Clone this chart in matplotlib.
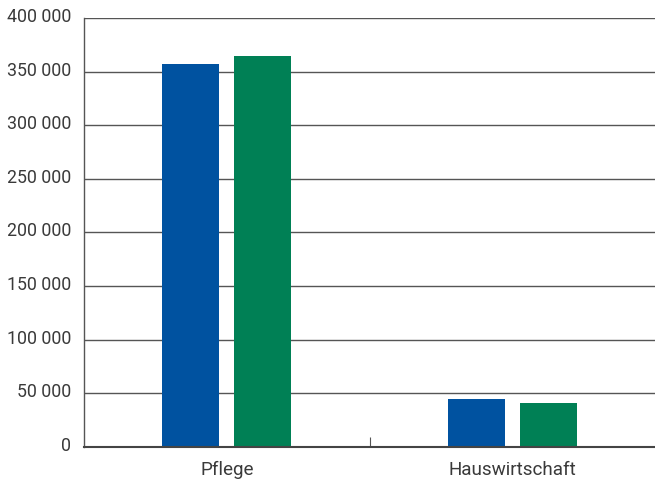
import numpy as np
import matplotlib
matplotlib.use("Agg")
import matplotlib.pyplot as plt
import matplotlib.transforms as mtransforms

categories = ["Pflege", "Hauswirtschaft"]
series_blue = [357000, 45000]
series_green = [365000, 41000]
y_ticks = [0, 50000, 100000, 150000, 200000, 250000, 300000, 350000, 400000]
y_labels = ["0", "50 000", "100 000", "150 000", "200 000", "250 000",
            "300 000", "350 000", "400 000"]

plt.rcParams["font.family"] = ["Roboto", "DejaVu Sans"]

fig = plt.figure(figsize=(6.55, 4.79), dpi=100)
ax = fig.add_axes([84 / 655, 32 / 479, 571 / 655, 429 / 479])

x = np.arange(len(categories))
w = 0.2
off = 0.126
ax.bar(x - off, series_blue, width=w, color="#0052A0", zorder=3)
ax.bar(x + off, series_green, width=w, color="#008055", zorder=3)

ax.set_xlim(-0.5, 1.5)
ax.set_ylim(0, 400000)
ax.set_yticks(y_ticks)
ax.set_yticklabels(y_labels)
ax.yaxis.grid(True, color="#555555", linewidth=1.0, zorder=1)
ax.tick_params(axis="y", length=0, pad=9, labelsize=12.8, labelcolor="#3a3a3a")

# labels sit a little above their grid lines
shift = mtransforms.ScaledTranslation(0, 3 / 100, fig.dpi_scale_trans)
for lbl in ax.get_yticklabels():
    lbl.set_transform(lbl.get_transform() + shift)

ax.set_xticks(x)
ax.set_xticklabels(categories)
ax.tick_params(axis="x", which="major", length=0, pad=10, labelsize=13.6,
               labelcolor="#3a3a3a")
ax.set_xticks([0.5], minor=True)
ax.tick_params(axis="x", which="minor", direction="in", length=7, width=0.8,
               color="#555555")

for s in ["top", "right"]:
    ax.spines[s].set_visible(False)
ax.spines["left"].set_color("#555555")
ax.spines["left"].set_linewidth(1.0)
ax.spines["bottom"].set_color("#444444")
ax.spines["bottom"].set_linewidth(1.5)
ax.spines["bottom"].set_zorder(4)

fig.savefig("out.png", dpi=100)
